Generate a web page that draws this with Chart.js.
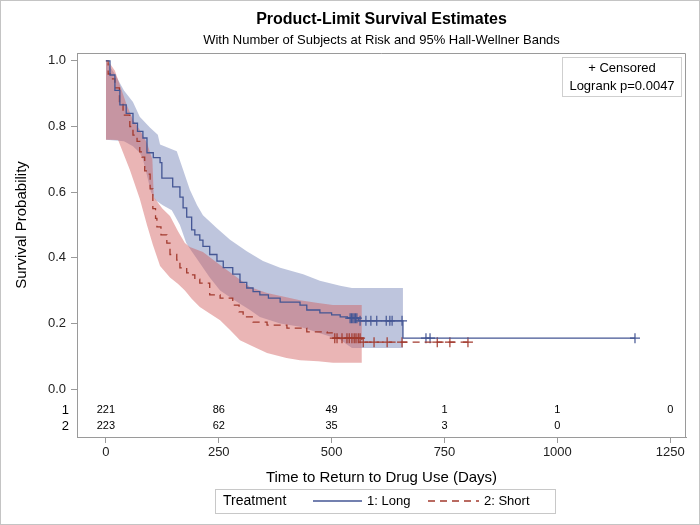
<!DOCTYPE html>
<html lang="en">
<head>
<meta charset="UTF-8" />
<title>Product-Limit Survival Estimates</title>
<script src="https://cdn.jsdelivr.net/npm/chart.js"></script>
<style>
  html, body { margin: 0; padding: 0; background: #fff; }
</style>
</head>
<body>
<canvas id="km" width="700" height="525"></canvas>
<script>
// Kaplan-Meier estimates (time in days, survival probability)
const longTimes = [0, 9, 20, 31, 45, 60, 70, 82, 91, 105, 120, 124, 148, 164, 171, 179, 190, 197, 208, 215, 230, 246, 260, 281, 297, 312, 326, 341, 360, 386, 430, 445, 474, 500, 519, 535, 560, 658, 1172];
const longSurv  = [1.0, 0.957, 0.91, 0.866, 0.84, 0.81, 0.785, 0.765, 0.72, 0.705, 0.69, 0.643, 0.616, 0.585, 0.552, 0.524, 0.485, 0.47, 0.454, 0.435, 0.41, 0.39, 0.37, 0.35, 0.325, 0.308, 0.297, 0.287, 0.277, 0.265, 0.256, 0.241, 0.232, 0.226, 0.22, 0.216, 0.208, 0.155, 0.155];

const shortTimes = [0, 5, 10, 20, 30, 38, 53, 60, 69, 75, 80, 86, 91, 98, 104, 110, 113, 122, 135, 142, 157, 164, 179, 186, 197, 208, 230, 253, 281, 295, 304, 326, 357, 401, 445, 490, 503, 567, 802];
const shortSurv  = [1.0, 0.96, 0.945, 0.918, 0.87, 0.835, 0.80, 0.774, 0.755, 0.723, 0.707, 0.665, 0.655, 0.61, 0.55, 0.52, 0.494, 0.47, 0.445, 0.41, 0.393, 0.369, 0.354, 0.348, 0.335, 0.323, 0.287, 0.277, 0.256, 0.235, 0.22, 0.204, 0.195, 0.186, 0.174, 0.171, 0.155, 0.143, 0.143];

// 95% Hall-Wellner bands
const longUpperTimes = [0, 20, 40, 60, 75, 98, 115, 120, 157, 171, 186, 202, 215, 246, 275, 312, 348, 386, 437, 474, 519, 545, 658];
const longUpper      = [1.0, 0.96, 0.91, 0.875, 0.83, 0.796, 0.775, 0.745, 0.725, 0.668, 0.607, 0.56, 0.53, 0.49, 0.455, 0.42, 0.39, 0.37, 0.35, 0.33, 0.315, 0.308, 0.308];
const longLowerTimes = [0, 40, 60, 75, 82, 93, 100, 110, 126, 146, 164, 178, 190, 208, 230, 253, 275, 297, 320, 341, 386, 430, 474, 519, 545, 658];
const longLower      = [0.76, 0.755, 0.74, 0.72, 0.70, 0.64, 0.60, 0.575, 0.56, 0.545, 0.50, 0.445, 0.42, 0.384, 0.34, 0.30, 0.28, 0.26, 0.24, 0.22, 0.20, 0.19, 0.17, 0.15, 0.125, 0.125];

const shortUpperTimes = [0, 10, 20, 30, 45, 60, 75, 91, 98, 103, 106, 125, 142, 160, 175, 186, 215, 253, 290, 319, 357, 400, 430, 470, 503, 567];
const shortUpper      = [1.0, 0.99, 0.97, 0.93, 0.87, 0.82, 0.79, 0.75, 0.72, 0.70, 0.585, 0.55, 0.527, 0.48, 0.445, 0.433, 0.418, 0.378, 0.341, 0.311, 0.293, 0.28, 0.271, 0.262, 0.256, 0.256];
const shortLowerTimes = [0, 10, 27, 53, 75, 91, 104, 120, 142, 160, 175, 190, 208, 230, 253, 275, 297, 326, 357, 400, 430, 470, 503, 567];
const shortLower      = [0.76, 0.76, 0.759, 0.668, 0.58, 0.50, 0.44, 0.375, 0.34, 0.32, 0.30, 0.275, 0.25, 0.23, 0.21, 0.18, 0.149, 0.13, 0.11, 0.095, 0.088, 0.085, 0.08, 0.08];

// censored observations
const longCensorTimes = [541, 544, 547, 550, 553, 556, 563, 576, 587, 600, 621, 629, 634, 656, 709, 718, 1172];
const longCensorSurv  = [0.216, 0.216, 0.216, 0.216, 0.216, 0.216, 0.208, 0.208, 0.208, 0.208, 0.208, 0.208, 0.208, 0.208, 0.155, 0.155, 0.155];
const shortCensorTimes = [507, 512, 523, 534, 539, 545, 550, 554, 559, 563, 570, 594, 623, 656, 734, 762, 802];
const shortCensorSurv  = [0.155, 0.155, 0.155, 0.155, 0.155, 0.155, 0.155, 0.155, 0.155, 0.155, 0.143, 0.143, 0.143, 0.143, 0.143, 0.143, 0.143];

// number of subjects at risk
const riskTimes = [0, 250, 500, 750, 1000, 1250];
const longAtRisk = [221, 86, 49, 1, 1, 0];
const shortAtRisk = [223, 62, 35, 3, 0, null];

const xTicks = [0, 250, 500, 750, 1000, 1250];
const yTicks = [0, 0.2, 0.4, 0.6, 0.8, 1.0];

const BLUE = "#445694";
const RED = "#A23A2E";
const BLUE_BAND = "rgba(111, 126, 179, 0.45)";
const RED_BAND = "rgba(208, 91, 91, 0.45)";
const FONT = "'Liberation Sans', Arial, sans-serif";

const pts = (xs, ys) => xs.map((x, i) => ({ x: x, y: ys[i] }));

const decorations = {
  id: "decorations",
  afterDraw(chart) {
    const ctx = chart.ctx;
    const area = chart.chartArea;
    const xs = chart.scales.x;
    const ys = chart.scales.y;
    const midX = (area.left + area.right) / 2;
    ctx.save();

    // outer border
    ctx.strokeStyle = "#c4c4c4";
    ctx.lineWidth = 1;
    ctx.strokeRect(0.5, 0.5, chart.width - 1, chart.height - 1);

    // top and right frame
    ctx.strokeStyle = "#9a9a9a";
    ctx.beginPath();
    ctx.moveTo(area.left, area.top + 0.5);
    ctx.lineTo(area.right - 0.5, area.top + 0.5);
    ctx.lineTo(area.right - 0.5, area.bottom);
    ctx.stroke();

    ctx.fillStyle = "#000";
    ctx.textAlign = "center";
    ctx.textBaseline = "middle";
    ctx.font = "bold 16px " + FONT;
    ctx.fillText("Product-Limit Survival Estimates", midX, 20);
    ctx.font = "13px " + FONT;
    ctx.fillText("With Number of Subjects at Risk and 95% Hall-Wellner Bands", midX, 40);

    // axis titles
    ctx.font = "15px " + FONT;
    ctx.fillText("Time to Return to Drug Use (Days)", midX, 478);
    ctx.save();
    ctx.translate(22, ys.getPixelForValue(0.5));
    ctx.rotate(-Math.PI / 2);
    ctx.fillText("Survival Probability", 0, 0);
    ctx.restore();

    // inset
    const bx = area.right - 124, by = area.top + 4;
    ctx.fillStyle = "#fff";
    ctx.fillRect(bx, by, 119, 39);
    ctx.strokeStyle = "#cfcfcf";
    ctx.strokeRect(bx + 0.5, by + 0.5, 119, 39);
    ctx.fillStyle = "#000";
    ctx.font = "13px " + FONT;
    ctx.fillText("+ Censored", bx + 60, by + 11);
    ctx.fillText("Logrank p=0.0047", bx + 60, by + 29);

    // at-risk table
    const zeroPx = ys.getPixelForValue(0);
    const rowY = [zeroPx + 21, zeroPx + 37];
    ctx.font = "13px " + FONT;
    ctx.textAlign = "right";
    ctx.fillText("1", area.left - 8, rowY[0]);
    ctx.fillText("2", area.left - 8, rowY[1]);
    ctx.textAlign = "center";
    ctx.font = "11px " + FONT;
    riskTimes.forEach((t, i) => {
      const px = xs.getPixelForValue(t);
      if (longAtRisk[i] !== null) ctx.fillText(String(longAtRisk[i]), px, rowY[0]);
      if (shortAtRisk[i] !== null) ctx.fillText(String(shortAtRisk[i]), px, rowY[1]);
    });

    // legend
    ctx.strokeStyle = "#c8c8c8";
    ctx.strokeRect(215.5, 489.5, 340, 24);
    const ly = 501;
    ctx.textAlign = "left";
    ctx.font = "14px " + FONT;
    ctx.fillText("Treatment", 223, ly);
    ctx.font = "13px " + FONT;
    ctx.lineWidth = 1.3;
    ctx.strokeStyle = BLUE;
    ctx.beginPath();
    ctx.moveTo(313, ly);
    ctx.lineTo(362, ly);
    ctx.stroke();
    ctx.fillText("1: Long", 367, ly);
    ctx.strokeStyle = RED;
    ctx.setLineDash([7, 5]);
    ctx.beginPath();
    ctx.moveTo(428, ly);
    ctx.lineTo(479, ly);
    ctx.stroke();
    ctx.setLineDash([]);
    ctx.fillText("2: Short", 484, ly);

    ctx.restore();
  },
};

const data = {
  datasets: [
    {
      label: "1: Long",
      data: pts(longTimes, longSurv),
      stepped: "before",
      borderColor: BLUE,
      borderWidth: 1.3,
      pointRadius: 0,
      fill: false,
    },
    {
      label: "2: Short",
      data: pts(shortTimes, shortSurv),
      stepped: "before",
      borderColor: RED,
      borderWidth: 1.3,
      borderDash: [7, 5],
      pointRadius: 0,
      fill: false,
    },
    {
      label: "Censored long",
      data: pts(longCensorTimes, longCensorSurv),
      showLine: false,
      pointStyle: "cross",
      pointRadius: 5,
      pointBorderWidth: 1.2,
      pointBorderColor: BLUE,
    },
    {
      label: "Censored short",
      data: pts(shortCensorTimes, shortCensorSurv),
      showLine: false,
      pointStyle: "cross",
      pointRadius: 5,
      pointBorderWidth: 1.2,
      pointBorderColor: RED,
    },
    {
      label: "Short band upper",
      data: pts(shortUpperTimes, shortUpper),
      borderColor: "rgba(0,0,0,0)",
      backgroundColor: RED_BAND,
      pointRadius: 0,
      fill: "+1",
    },
    {
      label: "Short band lower",
      data: pts(shortLowerTimes, shortLower),
      borderColor: "rgba(0,0,0,0)",
      pointRadius: 0,
      fill: false,
    },
    {
      label: "Long band upper",
      data: pts(longUpperTimes, longUpper),
      borderColor: "rgba(0,0,0,0)",
      backgroundColor: BLUE_BAND,
      pointRadius: 0,
      fill: "+1",
    },
    {
      label: "Long band lower",
      data: pts(longLowerTimes, longLower),
      borderColor: "rgba(0,0,0,0)",
      pointRadius: 0,
      fill: false,
    },
  ],
};

const config = {
  type: "line",
  data: data,
  plugins: [decorations],
  options: {
    responsive: false,
    animation: false,
    layout: { padding: { left: 0, right: 14, top: 53, bottom: 58 } },
    plugins: {
      legend: { display: false },
      tooltip: { enabled: false },
      title: { display: false },
    },
    scales: {
      x: {
        type: "linear",
        min: -64,
        max: 1285,
        afterBuildTicks: (scale) => { scale.ticks = xTicks.map((v) => ({ value: v })); },
        afterFit: (scale) => { scale.height = 30; },
        grid: { drawOnChartArea: false, drawTicks: true, tickLength: 6, color: "#9a9a9a" },
        border: { color: "#9a9a9a" },
        ticks: {
          padding: 2,
          color: "#222",
          font: { family: FONT, size: 13 },
          callback: (v) => String(v),
        },
      },
      y: {
        type: "linear",
        min: -0.146,
        max: 1.024,
        afterBuildTicks: (scale) => { scale.ticks = yTicks.map((v) => ({ value: v })); },
        afterFit: (scale) => { scale.width = 77; },
        grid: { drawOnChartArea: false, drawTicks: true, tickLength: 6, color: "#9a9a9a" },
        border: { color: "#9a9a9a" },
        ticks: {
          padding: 5,
          color: "#222",
          font: { family: FONT, size: 13 },
          callback: (v) => v.toFixed(1),
        },
      },
    },
  },
};

new Chart(document.getElementById("km"), config);
</script>
</body>
</html>
